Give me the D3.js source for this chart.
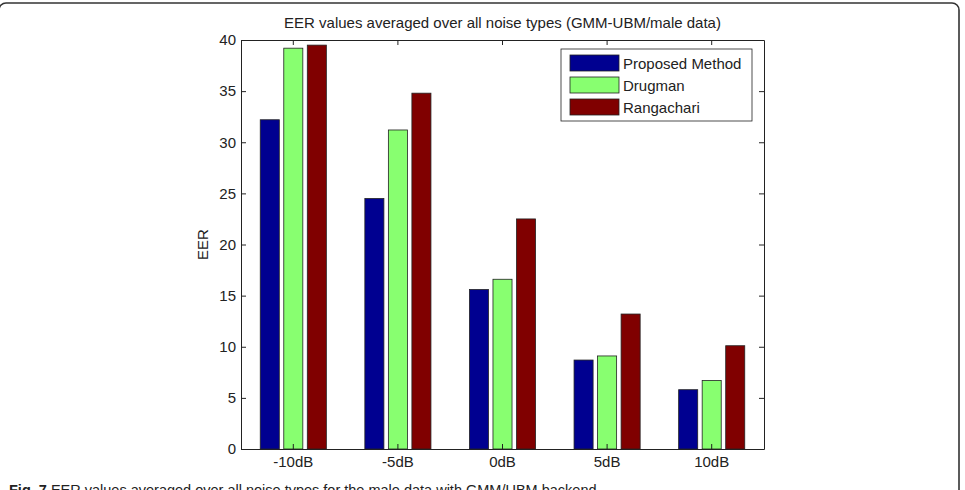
<!DOCTYPE html>
<html>
<head>
<meta charset="utf-8">
<script src="https://cdn.jsdelivr.net/npm/d3@7/dist/d3.min.js"></script>
<style>
  body { margin: 0; background: #fff; }
  svg { display: block; }
  text { font-family: "Liberation Sans", Arial, sans-serif; fill: #222; }
</style>
</head>
<body>
<div id="chart"></div>
<script>
// data
const categories = ["-10dB", "-5dB", "0dB", "5dB", "10dB"];
const seriesNames = ["Proposed Method", "Drugman", "Rangachari"];
const proposed = [32.2, 24.5, 15.6, 8.7, 5.8];
const drugman = [39.2, 31.2, 16.6, 9.1, 6.7];
const rangachari = [39.5, 34.8, 22.5, 13.2, 10.1];
const yTicks = [0, 5, 10, 15, 20, 25, 30, 35, 40];

const colors = ["#000090", "#88ff70", "#800000"];
const values = [proposed, drugman, rangachari];

const width = 965, height = 490;
const plotL = 241, plotR = 764, plotT = 40, plotB = 449;
const fs = 15;

const svg = d3.select("#chart").append("svg")
    .attr("width", width)
    .attr("height", height);

// outer rounded frame (figure panel)
svg.append("rect")
    .attr("x", -1).attr("y", 3)
    .attr("width", 960).attr("height", 520)
    .attr("rx", 7)
    .attr("fill", "none")
    .attr("stroke", "#333")
    .attr("stroke-width", 1.6);

const x0 = d3.scaleBand()
    .domain(categories)
    .range([plotL, plotR])
    .padding(0);

const bw = x0.bandwidth();
const x1 = d3.scaleBand()
    .domain(seriesNames)
    .range([-bw * 0.316, bw * 0.316])
    .paddingInner(0.19);

const y = d3.scaleLinear()
    .domain([0, 40])
    .range([plotB, plotT]);

// bars
const groups = svg.selectAll(".grp")
    .data(categories)
    .enter().append("g")
    .attr("class", "grp")
    .attr("transform", d => `translate(${x0(d) + bw / 2},0)`);

groups.selectAll("rect")
    .data((d, i) => seriesNames.map((s, j) => ({ s: s, v: values[j][i], c: colors[j] })))
    .enter().append("rect")
    .attr("x", d => x1(d.s))
    .attr("y", d => y(d.v))
    .attr("width", x1.bandwidth())
    .attr("height", d => plotB - y(d.v))
    .attr("fill", d => d.c)
    .attr("stroke", "#222")
    .attr("stroke-width", 0.8);

// axes (ticks pointing inward, box on all four sides)
function styleAxis(g) {
    g.selectAll("path, line").attr("stroke", "#222");
    g.selectAll("text").attr("font-size", fs).attr("fill", "#222")
        .attr("font-family", '"Liberation Sans", Arial, sans-serif');
}

svg.append("g")
    .attr("transform", `translate(0,${plotB})`)
    .call(d3.axisBottom(x0).tickSizeInner(-5).tickSizeOuter(0).tickPadding(7))
    .call(styleAxis);

svg.append("g")
    .attr("transform", `translate(0,${plotT})`)
    .call(d3.axisTop(x0).tickSizeInner(-5).tickSizeOuter(0).tickFormat(""))
    .call(styleAxis);

svg.append("g")
    .attr("transform", `translate(${plotL},0)`)
    .call(d3.axisLeft(y).tickValues(yTicks).tickSizeInner(-5).tickSizeOuter(0).tickPadding(5))
    .call(styleAxis);

svg.append("g")
    .attr("transform", `translate(${plotR},0)`)
    .call(d3.axisRight(y).tickValues(yTicks).tickSizeInner(-5).tickSizeOuter(0).tickFormat(""))
    .call(styleAxis);

// title
svg.append("text")
    .attr("x", (plotL + plotR) / 2)
    .attr("y", 28)
    .attr("text-anchor", "middle")
    .attr("font-size", fs)
    .text("EER values averaged over all noise types (GMM-UBM/male data)");

// y label
svg.append("text")
    .attr("transform", `translate(208,${(plotT + plotB) / 2}) rotate(-90)`)
    .attr("text-anchor", "middle")
    .attr("font-size", fs)
    .text("EER");

// legend
const legend = svg.append("g").attr("transform", "translate(561,49)");
legend.append("rect")
    .attr("width", 191).attr("height", 72)
    .attr("fill", "#fff")
    .attr("stroke", "#222")
    .attr("stroke-width", 0.8);

const li = legend.selectAll(".li")
    .data(seriesNames)
    .enter().append("g")
    .attr("class", "li")
    .attr("transform", (d, i) => `translate(9,${14 + i * 22})`);

li.append("rect")
    .attr("x", 0).attr("y", -8)
    .attr("width", 49).attr("height", 16)
    .attr("fill", (d, i) => colors[i])
    .attr("stroke", "#222")
    .attr("stroke-width", 0.8);

li.append("text")
    .attr("x", 53)
    .attr("y", 5.5)
    .attr("font-size", fs)
    .text(d => d);

// figure caption (partly cut by the bottom edge, as in the source)
const cap = svg.append("text")
    .attr("x", 9)
    .attr("y", 495)
    .attr("font-size", 14.5)
    .attr("font-family", '"Open Sans", "Noto Sans", sans-serif');
cap.append("tspan").attr("font-weight", "bold").text("Fig. 7");
cap.append("tspan").text(" EER values averaged over all noise types for the male data with GMM/UBM backend");
</script>
</body>
</html>
